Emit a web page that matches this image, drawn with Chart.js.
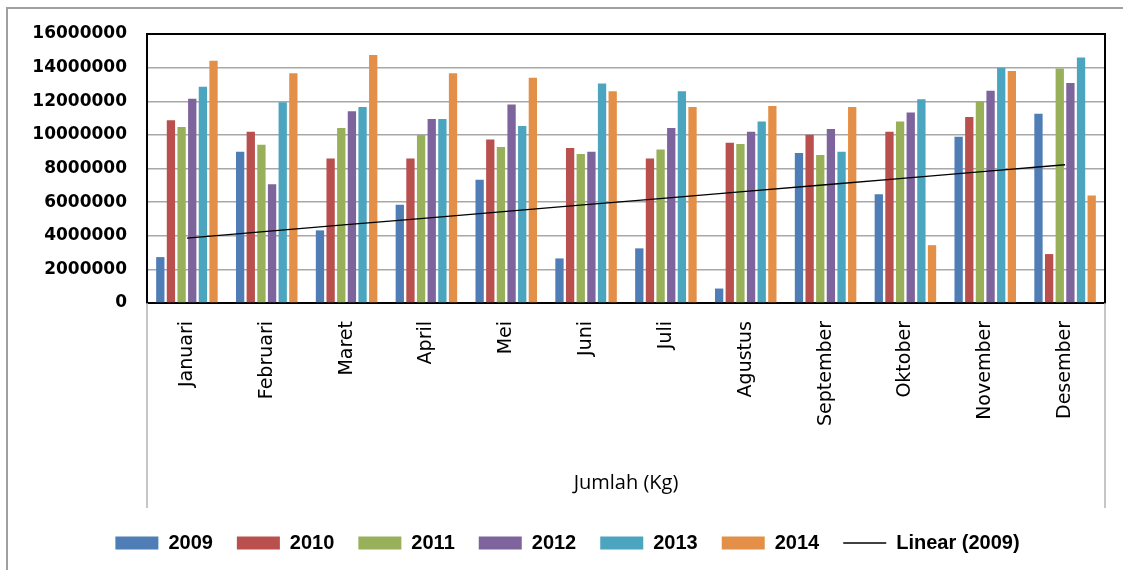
<!DOCTYPE html>
<html>
<head>
<meta charset="utf-8">
<title>Jumlah (Kg)</title>
<script src="https://cdn.jsdelivr.net/npm/chart.js@4.4.1/dist/chart.umd.min.js"></script>
<style>
    html, body { margin: 0; padding: 0; background: #fff; }
    #wrap { width: 1123px; height: 570px; position: relative; }
</style>
</head>
<body>
<div id="wrap"><canvas id="barChart"></canvas></div>
<script>
const months = ['Januari', 'Februari', 'Maret', 'April', 'Mei', 'Juni', 'Juli', 'Agustus', 'September', 'Oktober', 'November', 'Desember'];
const years = ['2009', '2010', '2011', '2012', '2013', '2014'];
const data2009 = [2730000, 9000000, 4320000, 5850000, 7330000, 2650000, 3250000, 860000, 8920000, 6470000, 9890000, 11250000];
const data2010 = [10870000, 10190000, 8600000, 8600000, 9730000, 9220000, 8600000, 9530000, 10010000, 10190000, 11070000, 2910000];
const data2011 = [10470000, 9410000, 10410000, 9990000, 9280000, 8860000, 9130000, 9460000, 8800000, 10790000, 12000000, 13950000];
const data2012 = [12150000, 7070000, 11400000, 10950000, 11800000, 9000000, 10410000, 10190000, 10350000, 11330000, 12620000, 13080000];
const data2013 = [12860000, 11940000, 11660000, 10950000, 10530000, 13060000, 12600000, 10790000, 9000000, 12120000, 14000000, 14600000];
const data2014 = [14410000, 13670000, 14750000, 13670000, 13400000, 12600000, 11660000, 11720000, 11660000, 3440000, 13800000, 6390000];
const yTicks = [0, 2000000, 4000000, 6000000, 8000000, 10000000, 12000000, 14000000, 16000000];

const colors = ['#4f7eb6', '#b9504d', '#98b05a', '#7e649c', '#4ba5bf', '#e48f47'];

// Linear (2009): least squares trend over the 2009 series, like Excel does
function linearTrend(values) {
    const n = values.length;
    let sx = 0, sy = 0, sxy = 0, sxx = 0;
    values.forEach((v, i) => {
        const x = i + 1;
        sx += x; sy += v; sxy += x * v; sxx += x * x;
    });
    const slope = (n * sxy - sx * sy) / (n * sxx - sx * sx);
    const icpt = (sy - slope * sx) / n;
    return values.map((v, i) => icpt + slope * (i + 1));
}

// frame lines: outer gray border, black plot box, gray box round the category labels
const framePlugin = {
    id: 'frame',
    afterDraw(chart) {
        const c = chart.ctx;
        const a = chart.chartArea;
        c.save();
        c.strokeStyle = '#a0a0a0';
        c.lineWidth = 2;
        c.beginPath();
        c.moveTo(7, chart.height);
        c.lineTo(7, 8);
        c.lineTo(chart.width, 8);
        c.stroke();

        c.strokeStyle = '#b4b4b4';
        c.lineWidth = 1.5;
        c.beginPath();
        c.moveTo(a.left, a.bottom);
        c.lineTo(a.left, 508);
        c.moveTo(a.right, a.bottom);
        c.lineTo(a.right, 508);
        c.stroke();

        c.strokeStyle = '#000';
        c.lineWidth = 2;
        c.beginPath();
        c.moveTo(a.left, a.top);
        c.lineTo(a.right, a.top);
        c.lineTo(a.right, a.bottom);
        c.stroke();
        c.restore();
    }
};

function initJumlahChart() {
    const ctx = document.getElementById('barChart');
    const series = [data2009, data2010, data2011, data2012, data2013, data2014];
    const datasets = series.map((d, i) => ({
        type: 'bar',
        label: years[i],
        data: d,
        backgroundColor: colors[i],
        borderWidth: 0,
        order: 1
    }));
    datasets.push({
        type: 'line',
        label: 'Linear (2009)',
        data: linearTrend(data2009),
        borderColor: '#000',
        backgroundColor: '#000',
        borderWidth: 1.3,
        pointRadius: 0,
        tension: 0,
        order: 0
    });

    new Chart(ctx, {
        data: {
            labels: months,
            datasets: datasets
        },
        options: {
            responsive: true,
            maintainAspectRatio: false,
            animation: false,
            datasets: {
                bar: {
                    categoryPercentage: 0.8,
                    barPercentage: 0.78
                }
            },
            layout: {
                padding: { left: 30, right: 18, top: 34, bottom: 7 }
            },
            scales: {
                x: {
                    grid: { display: false, drawTicks: false },
                    border: { color: '#000', width: 2 },
                    ticks: {
                        autoSkip: false,
                        maxRotation: 90,
                        minRotation: 90,
                        padding: 18,
                        color: '#000',
                        font: { family: 'DejaVu Sans', size: 19 }
                    },
                    title: {
                        display: true,
                        text: 'Jumlah (Kg)',
                        color: '#000',
                        font: { family: 'Open Sans', size: 20 },
                        padding: { top: 0, bottom: 14 }
                    },
                    afterFit(scale) {
                        scale.height = 206;
                    }
                },
                y: {
                    min: 0,
                    max: 16000000,
                    afterBuildTicks(scale) {
                        scale.ticks = yTicks.map(v => ({ value: v }));
                    },
                    grid: { color: '#a8a8a8', lineWidth: 1.5, drawTicks: false },
                    border: { color: '#000', width: 2 },
                    ticks: {
                        padding: 20,
                        color: '#000',
                        font: { family: 'DejaVu Sans', size: 17, weight: 'bold' },
                        callback: v => String(v)
                    },
                    afterFit(scale) {
                        scale.width = 117;
                    }
                }
            },
            plugins: {
                tooltip: { enabled: false },
                legend: {
                    position: 'bottom',
                    labels: {
                        usePointStyle: true,
                        pointStyleWidth: 43,
                        boxHeight: 13,
                        padding: 24,
                        color: '#000',
                        font: { family: 'Liberation Sans', size: 20, weight: 'bold' },
                        sort: (a, b) => a.datasetIndex - b.datasetIndex,
                        generateLabels(chart) {
                            const items = Chart.defaults.plugins.legend.labels.generateLabels(chart);
                            items.forEach(it => {
                                it.pointStyle = it.datasetIndex === 6 ? 'line' : 'rect';
                                if (it.datasetIndex === 6) {
                                    it.lineWidth = 1.3;
                                    it.strokeStyle = '#000';
                                } else {
                                    it.lineWidth = 0;
                                }
                            });
                            return items;
                        }
                    }
                }
            }
        },
        plugins: [framePlugin]
    });
}

initJumlahChart();
</script>
</body>
</html>
